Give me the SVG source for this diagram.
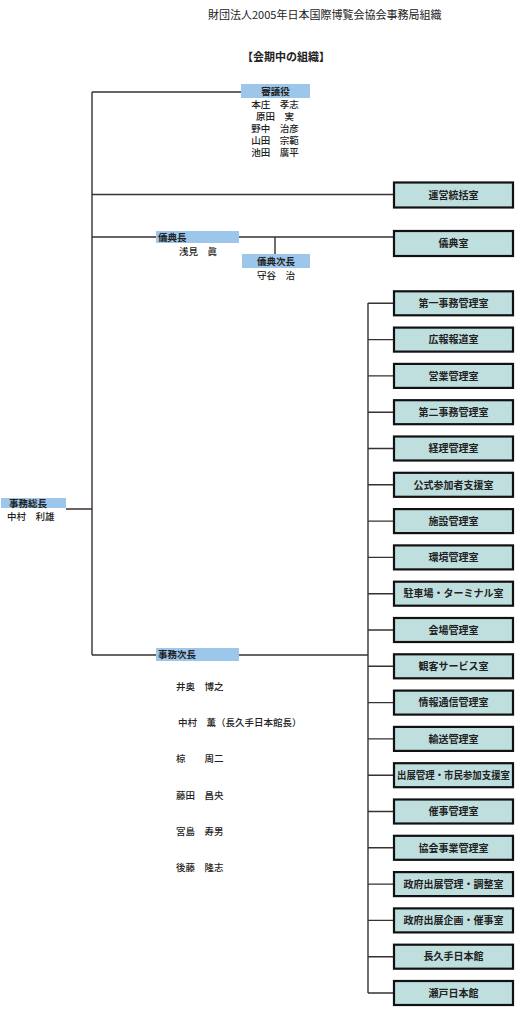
<svg xmlns="http://www.w3.org/2000/svg" width="522" height="1019" viewBox="0 0 522 1019">
<style>
text{font-family:"Noto Sans CJK JP","Noto Sans CJK SC",sans-serif;fill:#222;}
.t{font-size:11px;}
.h{font-size:11px;font-weight:bold;}
.bx{fill:#bfdfdf;stroke:#111;stroke-width:2.2;}
.lb{fill:#9cc6ea;}
.bt{font-size:10px;font-weight:bold;text-anchor:middle;}
.lt{font-size:9.5px;font-weight:bold;}
.nm{font-size:9.5px;font-weight:500;}
.c{text-anchor:middle;}
.ln{stroke:#3a3030;stroke-width:1.4;fill:none;}
</style>
<rect width="522" height="1019" fill="#fff"/>
<text class="t" x="208" y="19">財団法人2005年日本国際博覧会協会事務局組織</text>
<text class="h" x="242" y="61">【会期中の組織】</text>
<g id="connectors">
<path class="ln" d="M92 92V655M92 92H241M92 194.5H394M92 237H156M239 237H394M275 237V254M66 509H92M92 655H156M239 655H368M368 303V993"/>
<path class="ln" d="M368 303.3H394M368 339.6H394M368 375.9H394M368 412.2H394M368 448.5H394M368 484.8H394M368 521.1H394M368 557.4H394M368 593.7H394M368 630H394M368 666.3H394M368 702.6H394M368 738.9H394M368 775.2H394M368 811.5H394M368 847.8H394M368 884.1H394M368 920.4H394M368 956.7H394M368 993H394"/>
</g>
<g id="shingiyaku">
<rect class="lb" x="241" y="84" width="69" height="14"/>
<text class="lt c" x="275.5" y="94.5">審議役</text>
<text class="nm c"><tspan x="275" y="108">本庄　孝志</tspan><tspan x="275" dy="12">原田　実</tspan><tspan x="275" dy="12">野中　治彦</tspan><tspan x="275" dy="12">山田　宗範</tspan><tspan x="275" dy="12">池田　廣平</tspan></text>
</g>
<g id="gitencho">
<rect class="lb" x="156" y="231" width="83" height="12"/>
<text class="lt" x="158" y="240.5">儀典長</text>
<text class="nm c" x="198" y="255">浅見　眞</text>
</g>
<g id="gitenjicho">
<rect class="lb" x="242" y="254" width="68" height="14"/>
<text class="lt c" x="276" y="264.5">儀典次長</text>
<text class="nm c" x="276" y="279">守谷　治</text>
</g>
<g id="jimusocho">
<rect class="lb" x="1" y="498" width="65" height="10"/>
<text class="lt" x="9" y="506.5">事務総長</text>
<text class="nm" x="7" y="520">中村　利雄</text>
</g>
<g id="jimujicho">
<rect class="lb" x="156" y="648" width="83" height="13"/>
<text class="lt" x="158" y="658">事務次長</text>
<text class="nm" x="176" y="690">井奥　博之</text>
<text class="nm" x="178" y="726">中村　薫（長久手日本館長）</text>
<text class="nm" x="176" y="762">椋　　周二</text>
<text class="nm" x="176" y="799">藤田　昌央</text>
<text class="nm" x="176" y="835">宮島　寿男</text>
<text class="nm" x="176" y="871">後藤　隆志</text>
</g>
<g id="unei"><rect class="bx" x="394" y="182.5" width="119" height="25"/><text class="bt" x="453.5" y="198.5">運営統括室</text></g>
<g id="giten"><rect class="bx" x="394" y="231" width="119" height="25"/><text class="bt" x="453.5" y="247">儀典室</text></g>
<g id="b1"><rect class="bx" x="394" y="291.3" width="119" height="24"/><text class="bt" x="453.5" y="307">第一事務管理室</text></g>
<g id="b2"><rect class="bx" x="394" y="327.6" width="119" height="24"/><text class="bt" x="453.5" y="343.3">広報報道室</text></g>
<g id="b3"><rect class="bx" x="394" y="363.9" width="119" height="24"/><text class="bt" x="453.5" y="379.6">営業管理室</text></g>
<g id="b4"><rect class="bx" x="394" y="400.2" width="119" height="24"/><text class="bt" x="453.5" y="415.9">第二事務管理室</text></g>
<g id="b5"><rect class="bx" x="394" y="436.5" width="119" height="24"/><text class="bt" x="453.5" y="452.2">経理管理室</text></g>
<g id="b6"><rect class="bx" x="394" y="472.8" width="119" height="24"/><text class="bt" x="453.5" y="488.5">公式参加者支援室</text></g>
<g id="b7"><rect class="bx" x="394" y="509.1" width="119" height="24"/><text class="bt" x="453.5" y="524.8">施設管理室</text></g>
<g id="b8"><rect class="bx" x="394" y="545.4" width="119" height="24"/><text class="bt" x="453.5" y="561.1">環境管理室</text></g>
<g id="b9"><rect class="bx" x="394" y="581.7" width="119" height="24"/><text class="bt" x="453.5" y="597.4">駐車場・ターミナル室</text></g>
<g id="b10"><rect class="bx" x="394" y="618" width="119" height="24"/><text class="bt" x="453.5" y="633.7">会場管理室</text></g>
<g id="b11"><rect class="bx" x="394" y="654.3" width="119" height="24"/><text class="bt" x="453.5" y="670">観客サービス室</text></g>
<g id="b12"><rect class="bx" x="394" y="690.6" width="119" height="24"/><text class="bt" x="453.5" y="706.3">情報通信管理室</text></g>
<g id="b13"><rect class="bx" x="394" y="726.9" width="119" height="24"/><text class="bt" x="453.5" y="742.6">輸送管理室</text></g>
<g id="b14"><rect class="bx" x="394" y="763.2" width="119" height="24"/><text class="bt" x="453.5" y="778.9" textLength="113" lengthAdjust="spacingAndGlyphs">出展管理・市民参加支援室</text></g>
<g id="b15"><rect class="bx" x="394" y="799.5" width="119" height="24"/><text class="bt" x="453.5" y="815.2">催事管理室</text></g>
<g id="b16"><rect class="bx" x="394" y="835.8" width="119" height="24"/><text class="bt" x="453.5" y="851.5">協会事業管理室</text></g>
<g id="b17"><rect class="bx" x="394" y="872.1" width="119" height="24"/><text class="bt" x="453.5" y="887.8">政府出展管理・調整室</text></g>
<g id="b18"><rect class="bx" x="394" y="908.4" width="119" height="24"/><text class="bt" x="453.5" y="924.1">政府出展企画・催事室</text></g>
<g id="b19"><rect class="bx" x="394" y="944.7" width="119" height="24"/><text class="bt" x="453.5" y="960.4">長久手日本館</text></g>
<g id="b20"><rect class="bx" x="394" y="981" width="119" height="24"/><text class="bt" x="453.5" y="996.7">瀬戸日本館</text></g>
</svg>
